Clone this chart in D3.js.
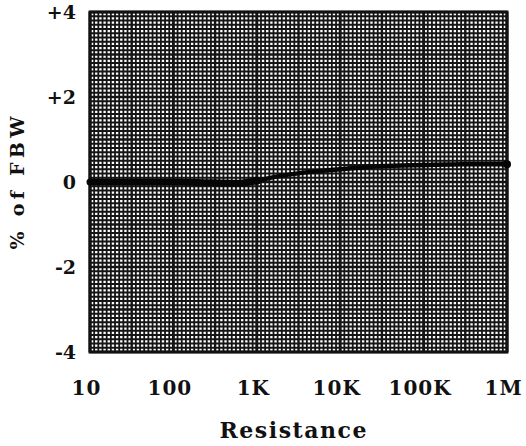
<!DOCTYPE html>
<html>
<head>
<meta charset="utf-8">
<script src="https://cdn.jsdelivr.net/npm/d3@7/dist/d3.min.js"></script>
<style>
  html, body { margin: 0; padding: 0; background: #fff; }
  svg { display: block; }
  .tick text { font-family: "DejaVu Serif", serif; font-weight: bold; fill: #111; }
</style>
</head>
<body>
<svg id="chart" width="526" height="446"></svg>
<script>
// ---- data ----
const resistance = [10, 30, 100, 300, 600, 1000, 2000, 5000, 10000, 30000, 100000, 300000, 1000000];
const pctFBW     = [0, 0, 0, -0.02, -0.03, 0.03, 0.15, 0.25, 0.30, 0.37, 0.40, 0.42, 0.42];
const markerR    = [1000, 1000000];
const markerV    = [0.03, 0.42];
const xTickValues = [10, 100, 1000, 10000, 100000, 1000000];
const xTickLabels = ["10", "100", "1K", "10K", "100K", "1M"];
const yTickValues = [4, 2, 0, -2, -4];
const yTickLabels = ["+4", "+2", "0", "-2", "-4"];
const xTitle = "Resistance";
const yTitle = "% of FBW";

const svg = d3.select("#chart");
const L = 90, R = 507, T = 12, B = 352;
const x = d3.scaleLog().domain([10, 1e6]).range([L, R]);
const y = d3.scaleLinear().domain([-4, 4]).range([B, T]);

// graph-paper grid
const g = svg.append("g");
const vLines = d3.range(0, 101).map(k => Math.pow(10, 1 + k * 0.05));
const hLines = d3.range(0, 81).map(k => -4 + k * 0.1);
g.selectAll("line.v").data(vLines.map((v, i) => ({v, i}))).join("line")
  .attr("x1", d => x(d.v)).attr("x2", d => x(d.v))
  .attr("y1", T).attr("y2", B)
  .attr("stroke", "#151515")
  .attr("stroke-width", d => d.i % 20 === 0 ? 2.9 : (d.i % 10 === 0 ? 2.4 : 1.8));
g.selectAll("line.h").data(hLines.map((v, i) => ({v, i}))).join("line")
  .attr("y1", d => y(d.v)).attr("y2", d => y(d.v))
  .attr("x1", L).attr("x2", R)
  .attr("stroke", "#151515")
  .attr("stroke-width", d => d.i % 10 === 0 ? 2.7 : 1.8);
g.append("rect").attr("x", L).attr("y", T).attr("width", R - L).attr("height", B - T)
  .attr("fill", "none").attr("stroke", "#111").attr("stroke-width", 3);

// curve
const pts = resistance.map((r, i) => [r, pctFBW[i]]);
const line = d3.line().x(d => x(d[0])).y(d => y(d[1])).curve(d3.curveMonotoneX);
svg.append("path").datum(pts.filter(d => d[0] <= 1000))
  .attr("d", line).attr("fill", "none").attr("stroke", "#050505")
  .attr("stroke-width", 7).attr("stroke-linecap", "round");
svg.append("path").datum(pts.filter(d => d[0] >= 1000))
  .attr("d", line).attr("fill", "none").attr("stroke", "#050505")
  .attr("stroke-width", 4.5).attr("stroke-linecap", "round");
svg.selectAll("circle.m").data(markerR.map((r, i) => [r, markerV[i]])).join("circle")
  .attr("cx", d => x(d[0])).attr("cy", d => y(d[1])).attr("r", 4).attr("fill", "#050505");

// axes
const xAxis = svg.append("g").attr("transform", `translate(0,${B})`)
  .call(d3.axisBottom(x).tickValues(xTickValues).tickFormat((d, i) => xTickLabels[i]).tickSize(0).tickPadding(0));
xAxis.select(".domain").remove();
xAxis.selectAll(".tick text").attr("y", 43).attr("dy", 0).attr("dx", -4)
  .style("font-size", "20px").style("letter-spacing", "1px");

const yAxis = svg.append("g").attr("transform", `translate(${L},0)`)
  .call(d3.axisLeft(y).tickValues(yTickValues).tickFormat((d, i) => yTickLabels[i]).tickSize(0).tickPadding(14));
yAxis.select(".domain").remove();
yAxis.selectAll(".tick text").style("font-size", "19px").attr("dy", "0.36em");

// titles
svg.append("text").attr("x", 293).attr("y", 438).attr("text-anchor", "middle")
  .attr("font-family", "DejaVu Serif, serif").attr("font-weight", "bold")
  .attr("font-size", 22).attr("fill", "#111")
  .attr("textLength", 147).attr("lengthAdjust", "spacing").text(xTitle);
svg.append("text").attr("transform", "translate(24,183) rotate(-90)").attr("text-anchor", "middle")
  .attr("font-family", "DejaVu Serif, serif").attr("font-weight", "bold")
  .attr("font-size", 19).attr("fill", "#111")
  .attr("textLength", 133).attr("lengthAdjust", "spacing").text(yTitle);
</script>
</body>
</html>
